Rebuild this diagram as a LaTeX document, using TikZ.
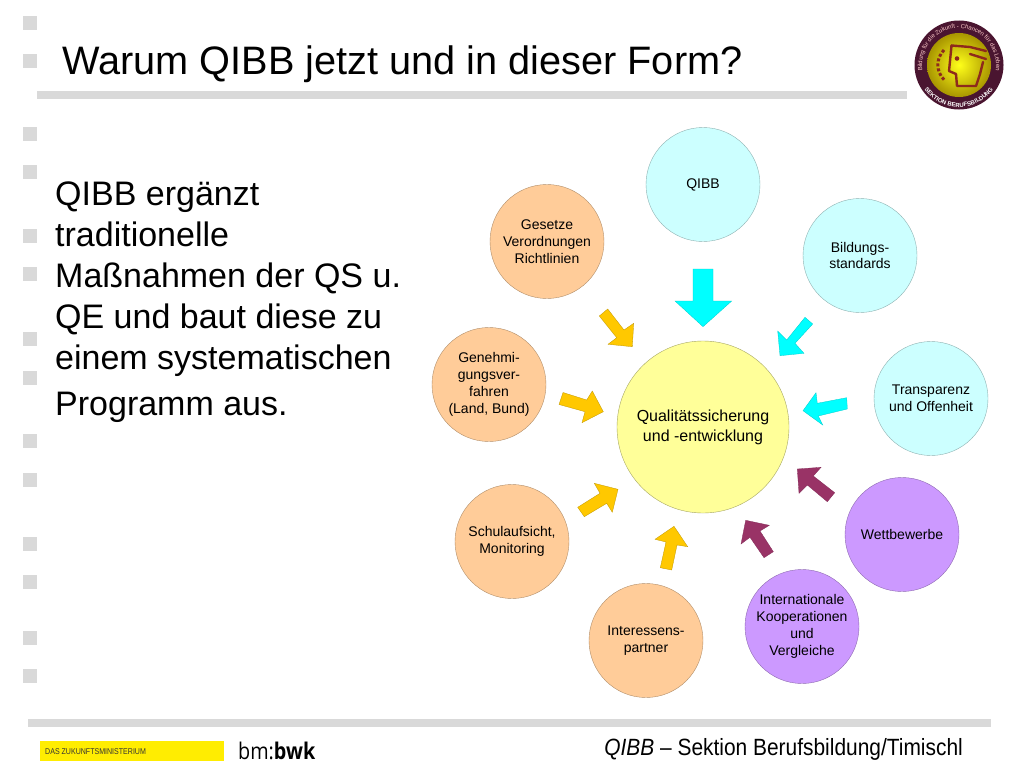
\documentclass[tikz,border=0pt]{standalone}
\usepackage{fontspec}
\setmainfont{Liberation Sans}
\newfontfamily\bmfont{Open Sans}
\usetikzlibrary{decorations.text}
\definecolor{peach}{HTML}{FFCC99}
\definecolor{lcyan}{HTML}{CCFFFF}
\definecolor{lpurple}{HTML}{CC99FF}
\definecolor{lyellow}{HTML}{FFFF99}
\definecolor{barblue}{HTML}{D9D9D9}
\definecolor{arrorange}{HTML}{FFC800}
\definecolor{arrcyan}{HTML}{00FFFF}
\definecolor{arrpurple}{HTML}{993366}
\definecolor{logodark}{HTML}{4A1530}
\definecolor{logored}{HTML}{8E2A1C}
\newcommand{\circfont}{\fontsize{14}{16.8}\selectfont}
\tikzset{
  bubble/.style={circle,draw=#1!70!black,line width=.4pt,minimum size=114pt,inner sep=0pt,align=center,font=\circfont},
  peachb/.style={bubble=peach,fill=peach},
  cyanb/.style={bubble=lcyan,fill=lcyan},
  purpleb/.style={bubble=lpurple,fill=lpurple},
  orangearr/.style={fill=arrorange,draw=arrorange!75!black,line width=.3pt,line join=miter},
  cyanarr/.style={fill=arrcyan,draw=arrcyan!80!black,line width=.3pt,line join=miter},
  purplearr/.style={fill=arrpurple,draw=arrpurple!85!black,line width=.3pt,line join=miter},
  bulletsq/.style={fill=barblue,draw=none,minimum size=14pt,inner sep=0pt},
  bar/.style={fill=barblue,draw=none},
  bodyline/.style={anchor=base west,inner sep=0pt,font=\fontsize{34}{40}\selectfont},
  logoline/.style={draw=logored,line width=2.4pt,line cap=round,line join=round}
}
\begin{document}
\begin{tikzpicture}[x=1pt,y=-1pt]
\useasboundingbox (0,0) rectangle (1024,768);
\fill[white] (0,0) rectangle (1024,768);
% bullets
\foreach \n/\yy in {a/23,b/61,c/134,d/172,e/236,f/274,g/339,h/378,i/441,j/480,k/544,l/582,m/638,o/676}
  \node[bulletsq] (bul\n) at (29.5,\yy) {};
% bars
\fill[bar] (37,91) rectangle (907,99);
\fill[bar] (28,719) rectangle (991,727);
% title
\node[anchor=base west,inner sep=0pt,font=\fontsize{39.7}{44}\selectfont] (title) at (62,74.5) {Warum QIBB jetzt und in dieser Form?};
% body
\node[bodyline] (l1) at (55,205) {QIBB ergänzt};
\node[bodyline] (l2) at (55,246) {traditionelle};
\node[bodyline] (l3) at (55,287) {Maßnahmen der QS u.};
\node[bodyline] (l4) at (55,328) {QE und baut diese zu};
\node[bodyline] (l5) at (55,369) {einem systematischen};
\node[bodyline] (l6) at (55,415) {Programm aus.};
% bubbles
\node[cyanb] (qibb) at (703,184.5) {QIBB};
\node[cyanb] (bild) at (860,255.5) {Bildungs-\\standards};
\node[cyanb] (trans) at (931,398.5) {Transparenz\\und Offenheit};
\node[purpleb] (wett) at (902,534.5) {Wettbewerbe};
\node[purpleb] (inter) at (802,626.5) {Internationale\\Kooperationen\\und\\Vergleiche};
\node[peachb] (partner) at (646,640.5) {Interessens-\\partner};
\node[peachb] (schul) at (512,541.5) {Schulaufsicht,\\Monitoring};
\node[peachb] (gen) at (489,384.5) {Genehmi-\\gungsver-\\fahren\\(Land, Bund)};
\node[peachb] (ges) at (547,241.5) {Gesetze\\Verordnungen\\Richtlinien};
\node[circle,draw=lyellow!65!black,fill=lyellow,line width=.4pt,minimum size=172pt,inner sep=0pt,align=center,font=\fontsize{16}{20}\selectfont] (qs) at (703,427) {Qualitätssicherung\\und -entwicklung};
% block arrows
\draw[cyanarr] (693,269) -- (713,269) -- (713,301) -- (731.7,301) -- (703,326.7) -- (675,301) -- (693,301) -- cycle;
\draw[cyanarr] (805,317.3) -- (812.7,324) -- (795,343.3) -- (804,353.3) -- (780,355.7) -- (777.7,331) -- (786.7,340) -- cycle;
\draw[cyanarr] (846.7,397.7) -- (847.3,409) -- (818.3,416) -- (822.7,425) -- (803,410.7) -- (816,392.7) -- (817.3,403.3) -- cycle;
\draw[orangearr] (599.3,316) -- (607.7,309) -- (624,330) -- (633.7,323.3) -- (632.3,346.7) -- (608,344.3) -- (616.7,337.7) -- cycle;
\draw[orangearr] (563,392.5) -- (586.7,400) -- (592.3,391) -- (603.3,411.7) -- (582,422.7) -- (585,411.7) -- (559,404.5) -- cycle;
\draw[orangearr] (577.7,507.3) -- (584.3,516.7) -- (606.7,503.3) -- (612.3,512.3) -- (618,489.3) -- (594.3,483.3) -- (600,493.3) -- cycle;
\draw[orangearr] (660.3,567.7) -- (671.7,570) -- (677,545) -- (687.7,546.7) -- (674,526.3) -- (655,539.3) -- (666,542) -- cycle;
\draw[purplearr] (773.3,551.7) -- (764,557.7) -- (750,537.3) -- (741,544) -- (745.7,520.3) -- (769.3,525.3) -- (760,531) -- cycle;
\draw[purplearr] (834.7,492.7) -- (827.3,501.7) -- (807.3,485) -- (799,493.3) -- (797.3,469) -- (821,467.3) -- (813.3,476) -- cycle;
% logo
\begin{scope}[shift={(959,65)},yscale=-1]
  \fill[logodark] (0,0) circle (44.5);
  \shade[inner color=yellow!90!white,outer color=yellow!60!black!85!orange] (0,0) circle (32);
  \path[decorate,decoration={text along path,text align=center,
    text={|\fontsize{6}{6}\selectfont\color{red!20!white}|Bildung für die Zukunft - Chancen für das Leben}}]
    (-36.5,-6) arc[start angle=189,end angle=-9,radius=37];
  \path[decorate,decoration={text along path,text align=center,
    text={|\fontsize{6}{6}\bfseries\selectfont\color{white}|SEKTION BERUFSBILDUNG}}]
    (-34.6,-24.2) arc[start angle=215,end angle=325,radius=42];
  \draw[logored,line width=3pt,dash pattern=on 3pt off 2pt] (-15,15) arc[start angle=135,end angle=225,radius=21];
  \draw[logoline] (-7.5,19.5) -- (-10,-6) -- (-3,-9) -- (-2,-21) -- (17,-21) -- (21,-9) -- (24,3);
  \draw[logoline] (-7.5,19.5) -- (11,18) -- (27,14);
  \draw[logoline] (11,11) -- (27,6);
  \fill[logored] (-2,6.5) circle (2.3);
\end{scope}
% footer
\node[anchor=base east,inner sep=0pt,font=\fontsize{23.5}{26}\selectfont] (foot) at (963,755) {\scalebox{.89}[1]{\itshape QIBB \upshape – Sektion Berufsbildung/Timischl}};
\fill[yellow!95!orange] (40,741) rectangle (224,761);
\node[anchor=base west,inner sep=0pt,font=\fontsize{8.4}{10}\selectfont,text=black!80] (zukunft) at (45,754) {\scalebox{.84}[1]{DAS ZUKUNFTSMINISTERIUM}};
\node[anchor=base west,inner sep=0pt,font=\bmfont\fontsize{23}{26}\selectfont] (bm) at (238,759) {\scalebox{.86}[1]{bm:\textbf{bwk}}};
\end{tikzpicture}
\end{document}
